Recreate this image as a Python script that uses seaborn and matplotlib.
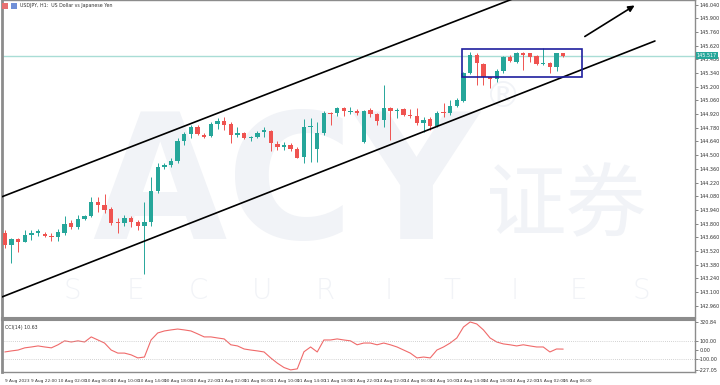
"""
USDJPY H1 con canal alcista y CCI(14), estilo plataforma (marca ACY).
"""
import numpy as np
import pandas as pd
import matplotlib
matplotlib.use('Agg')
import matplotlib.pyplot as plt
import seaborn as sns
from matplotlib.patches import Rectangle

# Velas H1 desde 9 Aug 18:00 hasta 15 Aug 06:00
opens = [143.708, 143.582, 143.640, 143.616, 143.681, 143.705, 143.698, 143.674, 143.661, 143.708,
         143.807, 143.769, 143.848, 143.879, 144.025, 143.991, 143.947, 143.820, 143.804, 143.855,
         143.820, 143.776, 143.820, 144.137, 144.376, 144.400, 144.444, 144.648, 144.717, 144.785,
         144.706, 144.696, 144.819, 144.852, 144.819, 144.706, 144.730, 144.673, 144.683, 144.737,
         144.750, 144.614, 144.581, 144.601, 144.563, 144.478, 144.785, 144.560, 144.730, 144.934,
         144.928, 144.979, 144.941, 144.948, 144.638, 144.962, 144.918, 144.860, 144.985, 144.955,
         144.969, 144.911, 144.901, 144.826, 144.867, 144.798, 144.944, 144.934, 145.006, 145.057,
         145.337, 145.524, 145.432, 145.296, 145.276, 145.360, 145.500, 145.455, 145.541, 145.541,
         145.514, 145.429, 145.439, 145.404, 145.541]
highs = [143.735, 143.654, 143.651, 143.735, 143.735, 143.743, 143.715, 143.702, 143.743, 143.879,
         143.838, 143.889, 143.889, 144.076, 144.076, 144.103, 143.970, 143.858, 143.889, 143.879,
         143.838, 144.025, 144.280, 144.417, 144.417, 144.468, 144.676, 144.737, 144.809, 144.809,
         144.730, 144.842, 144.877, 144.887, 144.839, 144.791, 144.740, 144.696, 144.750, 144.785,
         144.757, 144.648, 144.638, 144.622, 144.581, 144.867, 144.877, 144.842, 144.955, 144.944,
         144.996, 144.989, 144.989, 144.969, 144.962, 144.979, 144.934, 145.217, 144.996, 144.979,
         144.979, 144.969, 144.979, 144.887, 144.887, 144.955, 145.036, 145.064, 145.081, 145.353,
         145.558, 145.547, 145.445, 145.302, 145.378, 145.514, 145.524, 145.558, 145.558, 145.547,
         145.524, 145.592, 145.455, 145.547, 145.547]
lows = [143.551, 143.401, 143.514, 143.613, 143.633, 143.674, 143.664, 143.626, 143.626, 143.684,
        143.743, 143.743, 143.838, 143.871, 143.922, 143.909, 143.787, 143.708, 143.776, 143.763,
        143.735, 143.286, 143.776, 144.117, 144.356, 144.382, 144.420, 144.604, 144.673, 144.706,
        144.673, 144.689, 144.765, 144.757, 144.628, 144.689, 144.662, 144.648, 144.673, 144.689,
        144.546, 144.553, 144.553, 144.546, 144.468, 144.417, 144.433, 144.433, 144.706, 144.809,
        144.901, 144.901, 144.921, 144.911, 144.628, 144.893, 144.809, 144.785, 144.655, 144.877,
        144.901, 144.877, 144.809, 144.740, 144.757, 144.785, 144.887, 144.911, 144.996, 145.047,
        145.330, 145.217, 145.217, 145.184, 145.251, 145.337, 145.452, 145.439, 145.371, 145.455,
        145.422, 145.422, 145.337, 145.363, 145.507]
closes = [143.582, 143.640, 143.616, 143.681, 143.705, 143.722, 143.671, 143.661, 143.718, 143.800,
          143.769, 143.845, 143.875, 144.025, 143.988, 143.940, 143.804, 143.810, 143.855, 143.820,
          143.776, 143.820, 144.137, 144.376, 144.403, 144.444, 144.645, 144.717, 144.785, 144.713,
          144.689, 144.819, 144.852, 144.809, 144.706, 144.730, 144.673, 144.689, 144.730, 144.757,
          144.622, 144.581, 144.601, 144.560, 144.474, 144.791, 144.798, 144.724, 144.934, 144.918,
          144.979, 144.952, 144.955, 144.928, 144.955, 144.918, 144.849, 144.985, 144.955, 144.965,
          144.911, 144.901, 144.826, 144.860, 144.798, 144.934, 144.934, 145.006, 145.064, 145.337,
          145.524, 145.439, 145.302, 145.276, 145.360, 145.500, 145.466, 145.541, 145.524, 145.507,
          145.432, 145.439, 145.398, 145.541, 145.517]

# CCI(14), un valor por vela
cci = [-22, -10, 0, 25, 35, 47, 35, 25, 60, 105,
       92, 105, 92, 150, 115, 80, 0, -35, -35, -55,
       -90, -80, 115, 195, 218, 230, 240, 230, 218, 185,
       150, 150, 138, 127, 60, 47, 12, 0, -10, -22,
       -90, -150, -200, -227.05, -215, -20, 35, -22, 115, 115,
       127, 115, 105, 60, 80, 80, 60, 80, 60, 35,
       0, -35, -90, -80, -90, 0, 35, 80, 138, 263,
       320.84, 298, 230, 138, 92, 70, 60, 47, 60, 47,
       35, 35, -22, 12, 10.63]

time_labels = ['9 Aug 2023', '9 Aug 22:00', '10 Aug 02:00', '10 Aug 06:00', '10 Aug 10:00',
               '10 Aug 14:00', '10 Aug 18:00', '10 Aug 22:00', '11 Aug 02:00', '11 Aug 06:00',
               '11 Aug 10:00', '11 Aug 14:00', '11 Aug 18:00', '11 Aug 22:00', '14 Aug 02:00',
               '14 Aug 06:00', '14 Aug 10:00', '14 Aug 14:00', '14 Aug 18:00', '14 Aug 22:00',
               '15 Aug 02:00', '15 Aug 06:00']
price_ticks = [142.960, 143.100, 143.240, 143.380, 143.520, 143.660, 143.800, 143.940, 144.080,
               144.220, 144.360, 144.500, 144.640, 144.780, 144.920, 145.060, 145.200, 145.340,
               145.480, 145.620, 145.760, 145.900, 146.040]
cci_ticks = [320.84, 100.00, 0.00, -100.00, -227.05]

# Dibujos: canal, caja de consolidación y flecha (índice de vela, precio)
channel_upper = ([-0.4, 78.0], [144.076, 146.139])
channel_lower = ([-0.4, 97.8], [143.052, 145.667])
box_x = [68.8, 86.85]
box_y = [145.302, 145.582]
arrow_start = (86.9, 145.698)
arrow_end = (95.1, 146.045)
last_price = 145.517

GREEN = '#26a69a'
RED = '#ef5350'
GRID = '#8c8c8c'

sns.set_theme(style='white')
plt.rcParams['font.family'] = ['DejaVu Sans', 'Noto Sans CJK SC']

fig = plt.figure(figsize=(7.2, 3.85), dpi=100)
ax = fig.add_axes([0.003, 0.174, 0.962, 0.826])
ax2 = fig.add_axes([0.003, 0.034, 0.962, 0.135], sharex=ax)

df = pd.DataFrame({'open': opens, 'high': highs, 'low': lows, 'close': closes, 'cci': cci})
df['idx'] = np.arange(len(df))
up = df['close'] >= df['open']
colors = np.where(up, GREEN, RED)

# Marca de agua (muy tenue)
wm = '#f1f3f7'
ax.text(0.41, 0.40, 'ACY', transform=ax.transAxes, fontsize=125, fontweight='bold',
        color=wm, ha='center', va='center', zorder=0)
ax.text(0.815, 0.35, '证券', transform=ax.transAxes, fontsize=58, color=wm,
        ha='center', va='center', family=['Noto Sans CJK SC', 'DejaVu Sans'], zorder=0)
for i, ch in enumerate('SECURITIES'):
    ax.text((70 + 63.5 * i) / 695, 0.085, ch, transform=ax.transAxes, fontsize=20,
            fontweight='light', color=wm, ha='center', va='center', zorder=0)
ax.text(503 / 695, 1 - 97 / 318, '®', transform=ax.transAxes, fontsize=26,
        color=wm, ha='center', va='center', zorder=0)

# Velas
ax.vlines(df['idx'], df['low'], df['high'], colors=colors, lw=0.7, zorder=3)
body_low = np.minimum(df['open'], df['close'])
body_h = np.maximum(np.abs(df['close'] - df['open']), 0.007)
ax.bar(df['idx'], body_h, bottom=body_low, width=0.66, color=colors, lw=0, zorder=4)

# Precio actual
ax.axhline(last_price, color='#a9ddd6', lw=1.0, zorder=2)
ax.text(1.003, last_price, f'{last_price:.3f}', transform=ax.get_yaxis_transform(),
        fontsize=3.5, color='white', va='center', ha='left', zorder=6, clip_on=False,
        bbox=dict(boxstyle='square,pad=0.25', fc=GREEN, ec='none'))

# Canal y anotaciones
ax.plot(*channel_upper, color='black', lw=1.2, zorder=5)
ax.plot(*channel_lower, color='black', lw=1.2, zorder=5)
ax.add_patch(Rectangle((box_x[0], box_y[0]), box_x[1] - box_x[0], box_y[1] - box_y[0],
                       fill=False, ec='#1f1f9e', lw=1.2, zorder=6))
ax.annotate('', xy=arrow_end, xytext=arrow_start,
            arrowprops=dict(arrowstyle='-|>', color='black', lw=1.2, mutation_scale=9),
            zorder=6)

ax.set_xlim(-0.4, 103.8)
ax.set_ylim(142.836, 146.086)
ax.yaxis.tick_right()
ax.set_yticks(price_ticks)
ax.set_yticklabels([f'{p:.3f}' for p in price_ticks])
ax.tick_params(axis='y', labelsize=3.5, length=2, width=0.5, color='#555', labelcolor='#333', pad=1.2)
ax.tick_params(axis='x', labelbottom=False, length=0)

# Título
fig.text(20 / 720, 1 - 6 / 385, 'USDJPY, H1:  US Dollar vs Japanese Yen', fontsize=3.4,
         color='#333', va='center', ha='left')
fig.patches.append(Rectangle((2 / 720, 1 - 9 / 385), 6 / 720, 6 / 385, transform=fig.transFigure,
                             fc='#e87070', ec='none'))
fig.patches.append(Rectangle((11 / 720, 1 - 9 / 385), 6 / 720, 6 / 385, transform=fig.transFigure,
                             fc='#6f8fd8', ec='none'))

# CCI
sns.lineplot(data=df, x='idx', y='cci', ax=ax2, color='#f06a6a', lw=0.8)
ax2.axhline(100, color='#aaa', lw=0.5, ls=(0, (1, 2)))
ax2.axhline(-100, color='#aaa', lw=0.5, ls=(0, (1, 2)))
ax2.set_ylim(-250, 344)
ax2.yaxis.tick_right()
ax2.set_yticks(cci_ticks)
ax2.set_yticklabels([f'{v:.2f}' for v in cci_ticks])
ax2.tick_params(axis='y', labelsize=3.5, length=2, width=0.5, color='#555', labelcolor='#333', pad=1.2)
ax2.set_xticks(np.arange(0, len(time_labels) * 4, 4))
ax2.set_xticklabels(time_labels, ha='left')
ax2.tick_params(axis='x', labelsize=3.1, length=3, width=0.5, color='#555', labelcolor='#333', pad=2)
ax2.set_xlabel('')
ax2.set_ylabel('')
ax2.text(0.004, 0.86, 'CCI(14) 10.63', transform=ax2.transAxes, fontsize=3.4, color='#333',
         va='center', ha='left')

for a in (ax, ax2):
    for s in a.spines.values():
        s.set_color(GRID)
        s.set_linewidth(1.0)
ax.spines['left'].set_linewidth(2.0)
ax2.spines['left'].set_linewidth(2.0)
ax.spines['bottom'].set_linewidth(1.5)
ax2.spines['top'].set_linewidth(1.5)

plt.savefig('out.png', dpi=100)
plt.close()
